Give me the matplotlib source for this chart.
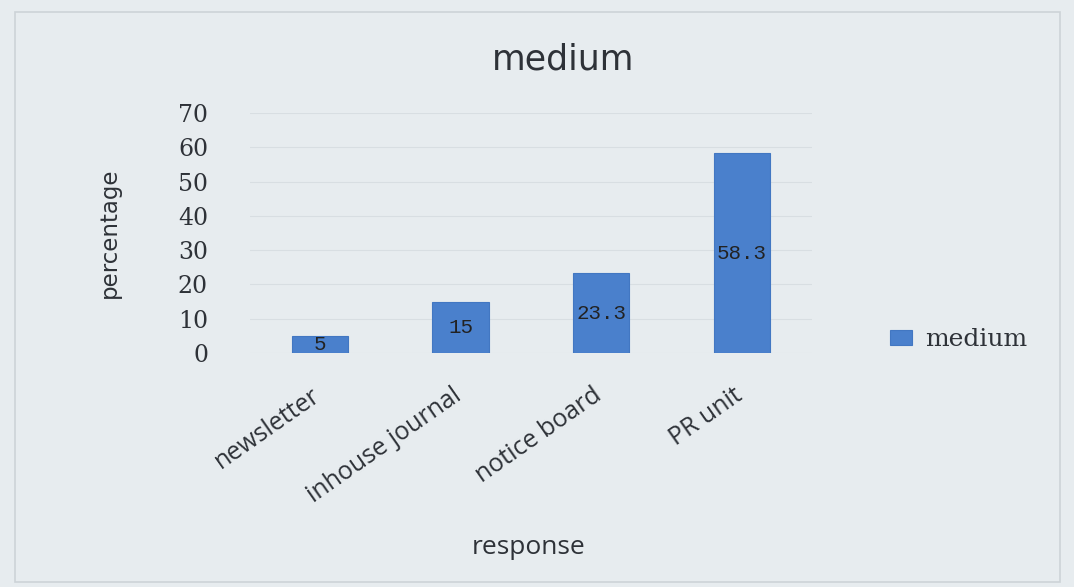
import matplotlib.pyplot as plt

categories = ['newsletter', 'inhouse journal', 'notice board', 'PR unit']
medium = [5, 15, 23.3, 58.3]
y_ticks = [0, 10, 20, 30, 40, 50, 60, 70]

bg = '#e7ecef'
bar_color = '#4a80cc'
text_color = '#2e3238'

fig = plt.figure(figsize=(10.74, 5.87), dpi=100, facecolor=bg)
ax = fig.add_axes([0.2325, 0.3985, 0.5235, 0.409], facecolor=bg)

x = range(len(categories))
bars = ax.bar(x, medium, width=0.4, color=bar_color, edgecolor='#4277c2',
              linewidth=0.8, label='medium', zorder=3)

# value labels sit in the middle of each bar
for xi, v in zip(x, medium):
    ax.text(xi, v / 2, f'{v:g}', ha='center', va='center',
            family='Liberation Mono', fontsize=15, color='#222222', zorder=4)

ax.set_xlim(-0.5, len(categories) - 0.5)
ax.set_ylim(0, 70)
ax.set_yticks(y_ticks)
ax.set_yticklabels([str(t) for t in y_ticks], family='DejaVu Serif',
                   fontsize=17, color=text_color)
ax.tick_params(axis='y', length=0, pad=30)
ax.tick_params(axis='x', length=0)
ax.set_xticks(list(x))
ax.set_xticklabels([])
ax.grid(axis='y', color='#d8dee2', linewidth=0.8, zorder=0)
for s in ax.spines.values():
    s.set_visible(False)

# rotated category names under the bars
for xi, name in zip(x, categories):
    ax.annotate(name, xy=(xi, 0), xycoords='data', xytext=(-2, -40),
                textcoords='offset pixels', rotation=35, rotation_mode='anchor',
                ha='right', va='center', family='Open Sans', fontsize=18,
                color=text_color)

fig.text(0.524, 0.898, 'medium', ha='center', va='center',
         family='DejaVu Sans', fontsize=25, color=text_color)
fig.text(0.102, 0.603, 'percentage', ha='center', va='center', rotation=90,
         family='Liberation Sans Narrow', fontsize=16.5, color=text_color)
fig.text(0.4925, 0.068, 'response', ha='center', va='center',
         family='Open Sans', fontsize=19, color=text_color)

leg = fig.legend(handles=[bars], labels=['medium'], loc='center left',
                 bbox_to_anchor=(0.808, 0.421), frameon=False,
                 prop={'family': 'DejaVu Serif', 'size': 18},
                 handlelength=0.88, handleheight=0.56, handletextpad=0.5)
for t in leg.get_texts():
    t.set_color(text_color)

# thin frame around the chart area
fig.patches.append(plt.Rectangle((0.014, 0.008), 0.973, 0.972,
                                 transform=fig.transFigure, fill=False,
                                 edgecolor='#cdd3d8', linewidth=1.2))

fig.savefig('out.png', dpi=100, facecolor=bg)
